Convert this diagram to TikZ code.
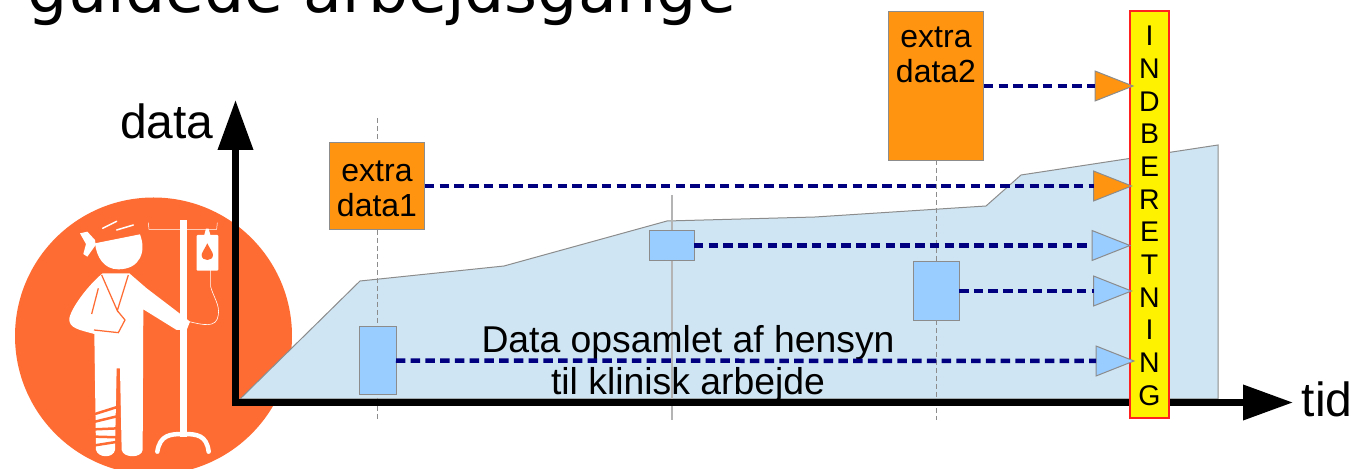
\documentclass[tikz,border=0pt]{standalone}
\usepackage{xcolor}
\usepackage{fontspec}
\setmainfont{Liberation Sans}
\newfontfamily\titlefont{DejaVu Sans}
\usetikzlibrary{shapes.geometric, arrows.meta, positioning}

\definecolor{patientred}{HTML}{FF6C33}
\definecolor{areablue}{HTML}{CFE5F3}
\definecolor{extraorange}{HTML}{FF9410}
\definecolor{klinikblue}{HTML}{99CCFF}
\definecolor{edgegray}{HTML}{8C8C8C}
\definecolor{guidegray}{HTML}{B4B4B4}
\definecolor{flownavy}{HTML}{000080}
\definecolor{barred}{HTML}{FF2020}

\tikzset{
    extrabox/.style={rectangle, draw=edgegray, fill=extraorange, line width=0.02cm, inner sep=0pt, outer sep=0pt, align=center, font=\fontsize{18.2}{20}\selectfont},
    klinikbox/.style={rectangle, draw=edgegray, fill=klinikblue, line width=0.02cm, inner sep=0pt, outer sep=0pt},
    extratip/.style={isosceles triangle, isosceles triangle stretches, shape border rotate=0, anchor=lower side, draw=edgegray, fill=extraorange, line width=0.02cm, minimum width=0.6cm, minimum height=0.76cm, inner sep=0pt, outer sep=0pt},
    kliniktip/.style={extratip, fill=klinikblue},
    flow/.style={draw=flownavy, line width=0.09cm, dash pattern=on 0.19cm off 0.105cm},
    guide/.style={draw=edgegray, line width=0.02cm, dash pattern=on 0.1cm off 0.06cm},
    axislabel/.style={anchor=base, inner sep=0pt, font=\fontsize{27.3}{30}\selectfont},
    sling/.style={draw=patientred, line width=0.025cm},
    whitebar/.style={draw=white, line cap=round, line width=0.09cm}
}

\begin{document}
\begin{tikzpicture}[x=0.02cm, y=-0.02cm]
    \useasboundingbox (0,0) rectangle (1370,469);
    \clip (0,0) rectangle (1370,469);

    % Title
    \node (title) [anchor=base west, inner sep=0pt, font=\titlefont\fontsize{36}{40}\selectfont] at (27,13) {guidede arbejdsgange};

    % Patient
    \fill[patientred] (153.5,336) circle (138.5);
    \begin{scope}[shift={(0,180)}, x=0.00667cm, y=-0.00667cm]
        % head and bandage
        \fill[white] (285,190) -- (420,163) .. controls (440,215) and (420,268) .. (355,268) .. controls (312,268) and (290,232) .. (285,190) -- cycle;
        \fill[white] (240,160) -- (262,155) -- (285,180) -- (287,195) -- (262,230) -- (250,222) -- (258,192) -- cycle;
        \draw[whitebar, line width=0.03cm] (308,145) -- (350,124);
        \draw[whitebar, line width=0.03cm] (350,150) -- (400,135);
        % body and legs
        \fill[white] (308,280) -- (388,280) -- (440,325) -- (545,405) -- (570,425) -- (560,450) -- (530,450) -- (430,388) -- (428,810) .. controls (425,835) and (370,835) .. (365,810) -- (360,565) -- (350,565) -- (345,810) .. controls (340,835) and (295,835) .. (288,810) -- (283,462) .. controls (240,450) and (205,445) .. (208,415) .. controls (215,380) and (270,310) .. (308,280) -- cycle;
        % sling
        \draw[sling] (305,285) -- (352,392) -- (385,285);
        \draw[sling] (295,325) -- (275,402);
        \draw[sling] (282,450) -- (355,458) -- (375,420) -- (352,392);
        % cast
        \draw[sling, line width=0.05cm] (285,702) -- (355,680);
        \draw[sling, line width=0.05cm] (285,725) -- (355,708);
        \draw[sling, line width=0.05cm] (285,748) -- (355,745);
        \draw[sling, line width=0.05cm] (285,770) -- (355,772);
        \draw[sling, line width=0.05cm] (285,796) -- (355,785);
        % drip stand
        \fill[white] (540,120) rectangle (562,770);
        \draw[whitebar, line width=0.09cm] (472,815) .. controls (480,765) and (510,762) .. (550,762) .. controls (590,762) and (620,765) .. (626,815);
        \draw[white, line width=0.01cm] (445,128) -- (447,148) -- (650,148) -- (652,128);
        \fill[white, rounded corners=0.02cm] (590,165) rectangle (655,272);
        \fill[white] (612,168) -- (618,146) -- (626,146) -- (632,168) -- cycle;
        \fill[patientred] (622,190) .. controls (612,210) and (605,218) .. (605,225) .. controls (605,245) and (639,245) .. (639,225) .. controls (639,218) and (632,210) .. (622,190) -- cycle;
        \draw[white, line width=0.012cm] (632,270) -- (632,320) .. controls (640,350) and (660,375) .. (655,405) .. controls (650,445) and (610,435) .. (568,425);
    \end{scope}

    % Data area
    \fill[areablue, draw=edgegray, line width=0.02cm] (240,399) -- (360,281) -- (504,266) -- (667,221) -- (815,217) -- (986,206) -- (1021,175) -- (1218,145) -- (1218,399) -- cycle;

    % Guides
    \coordinate (guide1top) at (377,118);
    \coordinate (guide1low) at (377,420);
    \coordinate (guide2top) at (672,195);
    \coordinate (guide2low) at (672,420);
    \coordinate (guide3top) at (936,160);
    \coordinate (guide3low) at (936,420);
    \draw[guide] (guide1top) -- (guide1low);
    \draw[guidegray, line width=0.036cm] (guide2top) -- (guide2low);
    \draw[guide] (guide3top) -- (guide3low);

    % Axes
    \coordinate (origin) at (235.5,402.5);
    \coordinate (ytip) at (235.5,100);
    \coordinate (xtip) at (1293,402.5);
    \draw[{Triangle[length=1cm, width=0.68cm]}-{Triangle[length=1cm, width=0.68cm]}, line width=0.14cm, miter limit=10] (ytip) -- (origin) -- (xtip);
    \node (datalabel) [axislabel] at (167,139) {data};
    \node (tidlabel) [axislabel] at (1327,417) {tid};

    % Nodes
    \node (extra1) [extrabox, minimum width=1.92cm, minimum height=1.76cm] at (377,186) {\rule{0pt}{15.2pt}extra\\data1};
    \node (extra2) [extrabox, minimum width=1.92cm, minimum height=3cm] at (936,86) {extra\\data2\\\rule{0pt}{1.2cm}};
    \node (klinik1) [klinikbox, minimum width=0.74cm, minimum height=1.38cm] at (377.5,360.5) {};
    \node (klinik2) [klinikbox, minimum width=0.9cm, minimum height=0.62cm] at (671.5,245.5) {};
    \node (klinik3) [klinikbox, minimum width=0.92cm, minimum height=1.2cm] at (936,291) {};
    \node (opsamlet) [align=center, inner sep=0pt, font=\fontsize{21.25}{23.9}\selectfont] at (688,364) {Data opsamlet af hensyn\\til klinisk arbejde};

    % Report bar
    \node (indberetning) [rectangle, draw=barred, fill=yellow, line width=0.024cm, minimum width=0.78cm, minimum height=8.14cm, inner sep=0pt, align=center, font=\fontsize{16.2}{18.6}\selectfont] at (1149.5,214.5) {\rule{0pt}{12.6pt}I\\N\\D\\B\\E\\R\\E\\T\\N\\I\\N\\G};

    % Tips
    \node (tipextra2) [extratip] at (1095,86) {};
    \node (tipextra1) [extratip] at (1093.5,186) {};
    \node (tipklinik2) [kliniktip] at (1092,245.5) {};
    \node (tipklinik3) [kliniktip] at (1093.5,291) {};
    \node (tipklinik1) [kliniktip] at (1096,361) {};

    % Flows
    \draw[flow] (extra2) -- (tipextra2.lower side);
    \draw[flow] (extra1) -- (tipextra1.lower side);
    \draw[flow] (klinik2) -- (tipklinik2.lower side);
    \draw[flow] (klinik3) -- (tipklinik3.lower side);
    \draw[flow] (klinik1) -- (tipklinik1.lower side);
\end{tikzpicture}
\end{document}
